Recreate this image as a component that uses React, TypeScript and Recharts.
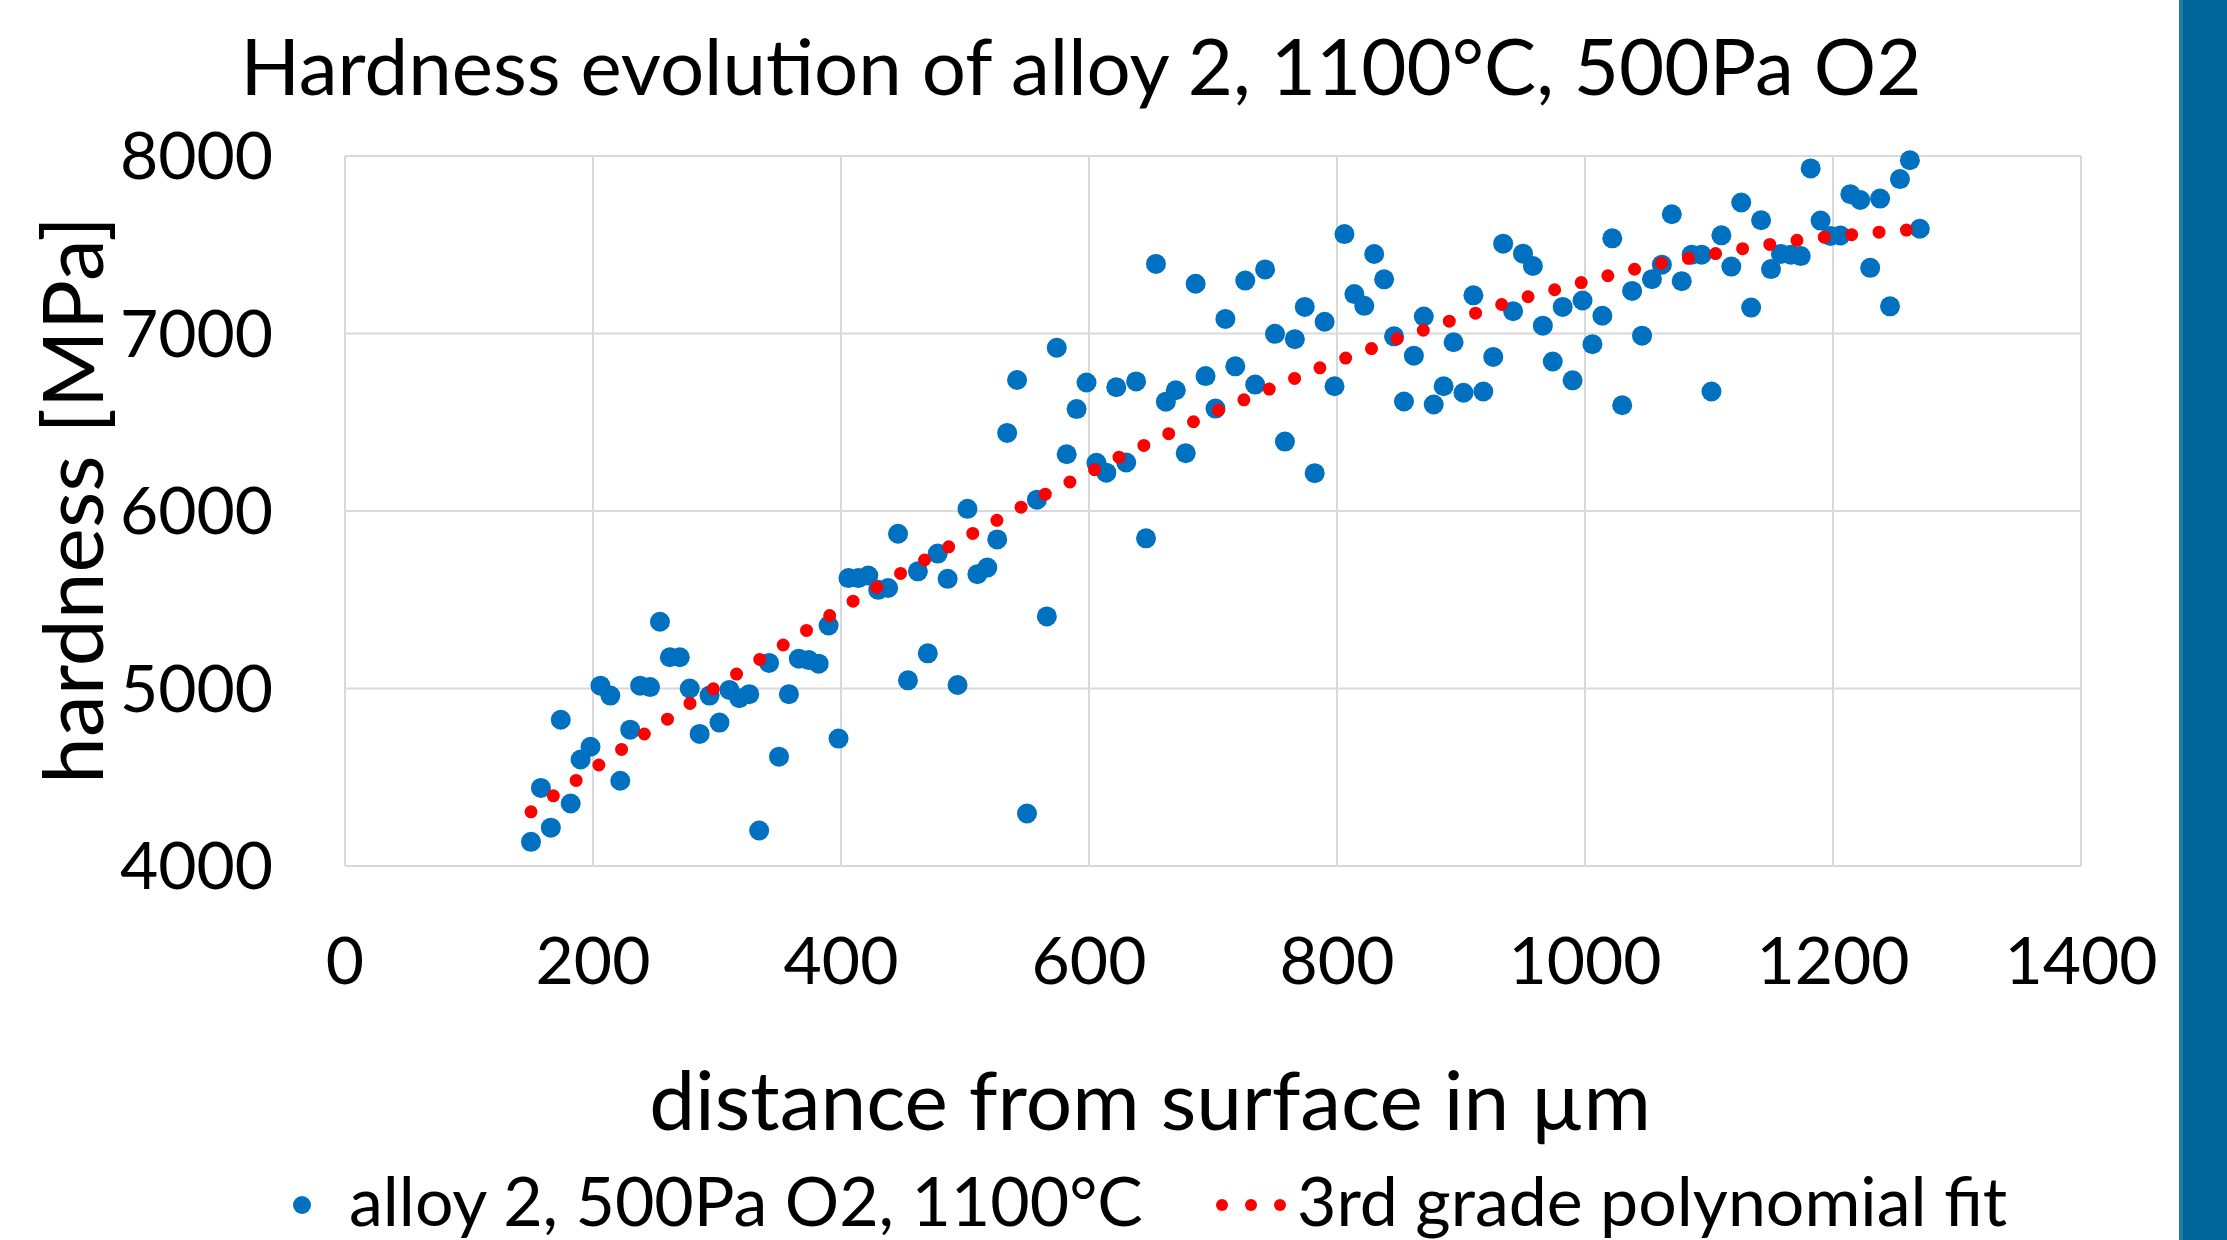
import React from 'react';
import { ScatterChart, Scatter, XAxis, YAxis, CartesianGrid } from 'recharts';

// measured hardness (MPa) vs distance from surface (µm)
const distance = [
  150, 158, 166, 174, 182, 190, 198, 206, 214, 222, 230, 238, 246, 254, 262, 270,
  278, 286, 294, 302, 310, 318, 326, 334, 342, 350, 358, 366, 374, 382, 390, 398,
  406, 414, 422, 430, 438, 446, 454, 462, 470, 478, 486, 494, 502, 510, 518, 526,
  534, 542, 550, 558, 566, 574, 582, 590, 598, 606, 614, 622, 630, 638, 646, 654,
  662, 670, 678, 686, 694, 702, 710, 718, 726, 734, 742, 750, 758, 766, 774, 782,
  790, 798, 806, 814, 822, 830, 838, 846, 854, 862, 870, 878, 886, 894, 902, 910,
  918, 926, 934, 942, 950, 958, 966, 974, 982, 990, 998, 1006, 1014, 1022, 1030, 1038,
  1046, 1054, 1062, 1070, 1078, 1086, 1094, 1102, 1110, 1118, 1126, 1134, 1142, 1150, 1158, 1166,
  1174, 1182, 1190, 1198, 1206, 1214, 1222, 1230, 1238, 1246, 1254, 1262, 1270,
];
const hardness = [
  4136, 4440, 4216, 4824, 4352, 4600, 4672, 5016, 4960, 4480, 4768, 5016, 5008, 5376, 5176, 5176,
  5000, 4744, 4960, 4808, 4992, 4945, 4968, 4200, 5144, 4616, 4968, 5168, 5160, 5140, 5355, 4718,
  5622, 5622, 5636, 5556, 5566, 5872, 5046, 5660, 5198, 5760, 5618, 5020, 6012, 5644, 5681, 5840,
  6440, 6738, 4296, 6064, 5406, 6920, 6320, 6574, 6724, 6272, 6216, 6697, 6273, 6730, 5846, 7392,
  6616, 6680, 6326, 7280, 6760, 6577, 7082, 6815, 7298, 6712, 7361, 6998, 6391, 6968, 7150, 6213,
  7066, 6703, 7560, 7222, 7156, 7448, 7305, 6984, 6617, 6875, 7096, 6600, 6703, 6951, 6666, 7215,
  6673, 6868, 7506, 7126, 7450, 7380, 7044, 6842, 7150, 6736, 7186, 6940, 7100, 7536, 6596, 7240,
  6988, 7306, 7388, 7672, 7295, 7444, 7444, 6673, 7553, 7377, 7738, 7146, 7638, 7363, 7448, 7444,
  7436, 7930, 7636, 7550, 7552, 7785, 7752, 7370, 7760, 7153, 7870, 7976, 7590,
];

// 3rd grade polynomial trend line
const fitDistance = [
  150, 168, 187, 206, 225, 244, 263, 281, 301, 320, 339, 359, 378, 397, 417, 436,
  456, 477, 496, 516, 536, 556, 577, 597, 617, 637, 658, 678, 699, 720, 741, 762,
  783, 804, 826, 847, 869, 890, 911, 933, 955, 977, 999, 1021, 1043, 1065, 1088, 1111,
  1132, 1155, 1177, 1200, 1223, 1245, 1268,
];
const fitHardness = [
  4305, 4395, 4485, 4575, 4666, 4756, 4840, 4930, 5015, 5100, 5184, 5269, 5353, 5438, 5523, 5599,
  5681, 5760, 5833, 5912, 5985, 6064, 6138, 6205, 6279, 6346, 6414, 6482, 6552, 6612, 6674, 6736,
  6798, 6854, 6910, 6967, 7017, 7068, 7113, 7164, 7209, 7249, 7291, 7330, 7367, 7401, 7429, 7457,
  7484, 7508, 7531, 7548, 7561, 7576, 7587,
];

const xTicks = [0, 200, 400, 600, 800, 1000, 1200, 1400];
const yTicks = [4000, 5000, 6000, 7000, 8000];

const measured = distance.map((x, i) => ({ x, h: hardness[i] }));
const fit = fitDistance.map((x, i) => ({ x, h: fitHardness[i] }));

const FONT = 'Lato, "Open Sans", sans-serif';
const BLUE = '#0070c0';
const RED = '#ff0000';

const BlueDot = (props: any) => <circle cx={props.cx} cy={props.cy} r={10} fill={BLUE} />;
const NoDot = () => <g />;

const XTitle = () => (
  <text x={1150} y={1130} textAnchor="middle" fontFamily={FONT} fontSize={82} fill="#000">
    distance from surface in µm
  </text>
);

const YTitle = () => (
  <text
    x={0}
    y={0}
    transform="translate(103, 500) rotate(-90)"
    textAnchor="middle"
    fontFamily={FONT}
    fontSize={84}
    fill="#000"
  >
    hardness [MPa]
  </text>
);

export default function App() {
  return (
    <div style={{ position: 'absolute', left: 0, top: 0, width: 2227, height: 1240, background: '#fff', overflow: 'hidden' }}>
      <ScatterChart width={2179} height={1240} margin={{ top: 156, right: 98, bottom: 174, left: 0 }}>
        <CartesianGrid stroke="#d9d9d9" strokeWidth={2} />
        <XAxis
          type="number"
          dataKey="x"
          domain={[0, 1400]}
          ticks={xTicks}
          height={200}
          axisLine={false}
          tickLine={false}
          tickSize={0}
          tickMargin={71}
          tick={{ fill: '#000', fontSize: 66, fontFamily: FONT }}
          label={{ content: XTitle }}
        />
        <YAxis
          type="number"
          dataKey="h"
          domain={[4000, 8000]}
          ticks={yTicks}
          width={345}
          axisLine={false}
          tickLine={false}
          tickSize={0}
          tickMargin={72}
          tick={{ fill: '#000', fontSize: 66, fontFamily: FONT }}
          label={{ content: YTitle }}
        />
        <Scatter data={measured} fill={BLUE} shape={BlueDot} isAnimationActive={false} />
        <Scatter
          data={fit}
          fill={RED}
          shape={NoDot}
          line={{ stroke: RED, strokeWidth: 13, strokeDasharray: '0 27.5', strokeLinecap: 'round' }}
          isAnimationActive={false}
        />
      </ScatterChart>

      <div
        style={{
          position: 'absolute', left: 0, top: 26, width: 2162, textAlign: 'center',
          fontFamily: FONT, fontSize: 78, lineHeight: '78px', color: '#000', whiteSpace: 'nowrap',
        }}
      >
        Hardness evolution of alloy 2, 1100°C, 500Pa O2
      </div>

      <svg width={2227} height={1240} style={{ position: 'absolute', left: 0, top: 0, pointerEvents: 'none' }}>
        <circle cx={302} cy={1205} r={9} fill={BLUE} />
        <text x={349} y={1226} fontFamily={FONT} fontSize={68} fill="#000">alloy 2, 500Pa O2, 1100°C</text>
        <circle cx={1222} cy={1205} r={6} fill={RED} />
        <circle cx={1251} cy={1205} r={6} fill={RED} />
        <circle cx={1280} cy={1205} r={6} fill={RED} />
        <text x={1297} y={1226} fontFamily={FONT} fontSize={68} fill="#000">3rd grade polynomial fit</text>
      </svg>

      <div style={{ position: 'absolute', left: 2179, top: 0, width: 48, height: 1240, background: '#006699', borderLeft: '4px solid #2a78a6', boxSizing: 'border-box' }} />
    </div>
  );
}
